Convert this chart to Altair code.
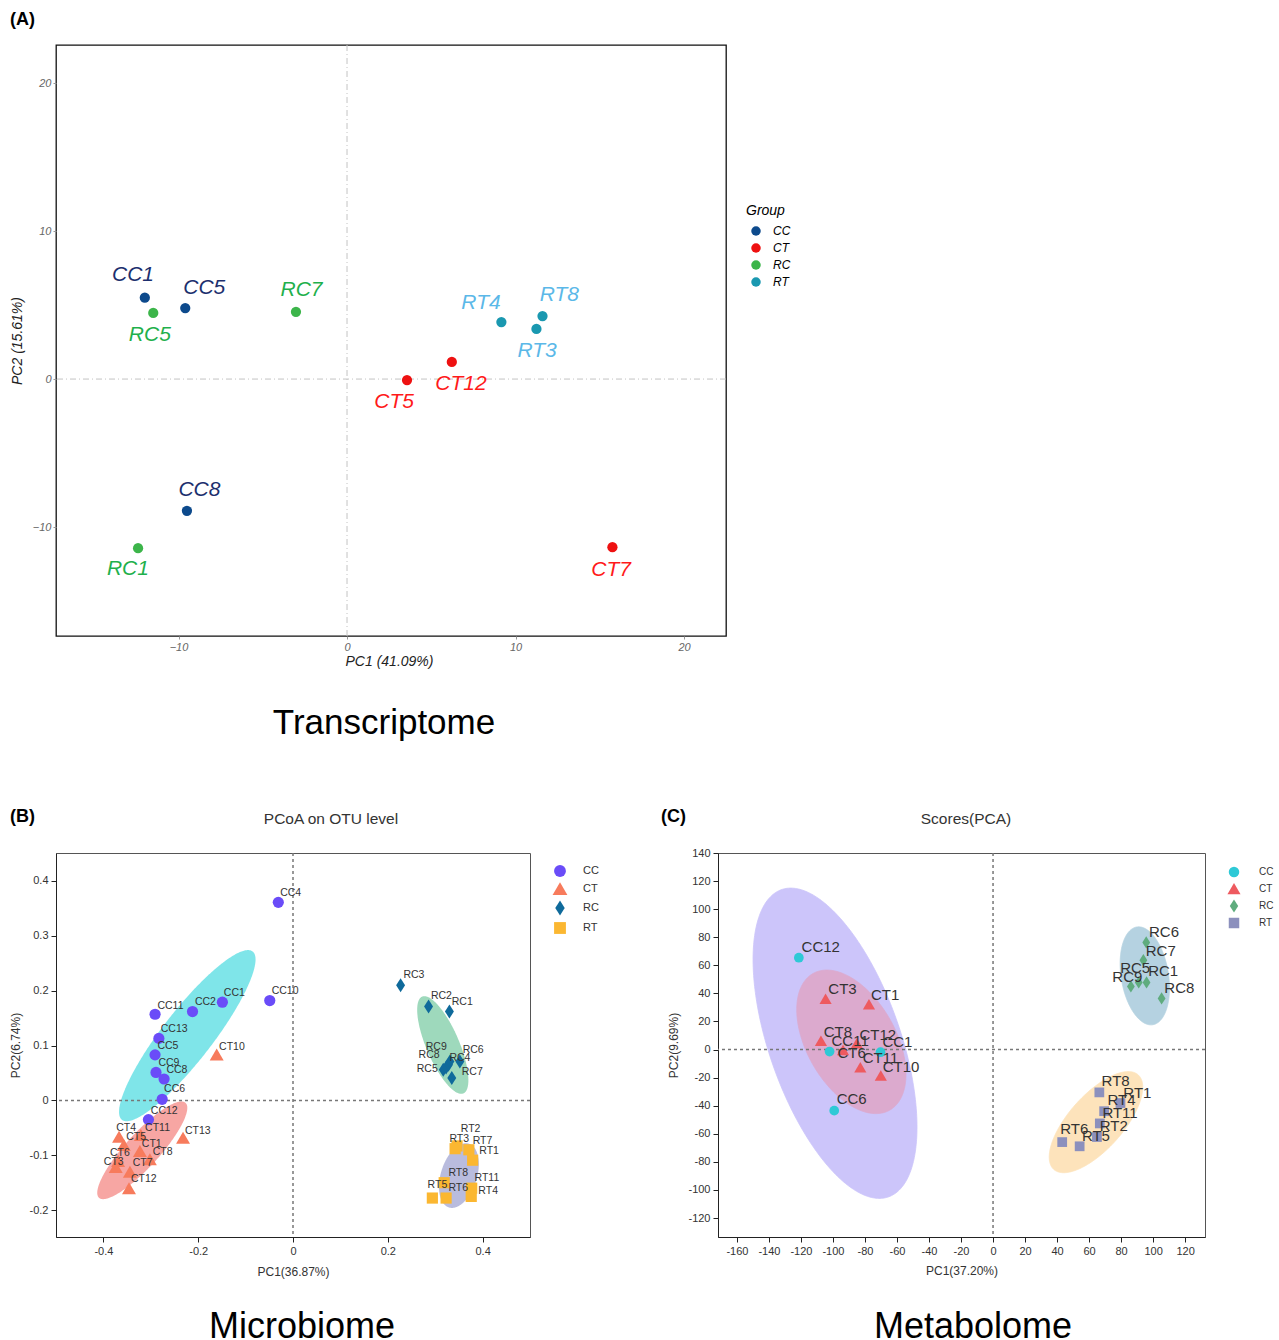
import altair as alt
import numpy as np
import pandas as pd

FONT = "Liberation Sans"
GROUPS = ["CC", "CT", "RC", "RT"]

# ---------------- Panel A : Transcriptome PCA ----------------
a_sample = ["CC1", "CC5", "CC8", "CT5", "CT7", "CT12", "RC1", "RC5", "RC7", "RT3", "RT4", "RT8"]
a_pc1 = [-12.0, -9.6, -9.5, 3.56, 15.75, 6.22, -12.4, -11.5, -3.03, 11.24, 9.16, 11.6]
a_pc2 = [5.5, 4.8, -8.9, -0.07, -11.36, 1.16, -11.43, 4.47, 4.54, 3.39, 3.85, 4.26]
a_lab_x = [-12.7, -8.47, -8.76, 2.8, 15.67, 6.76, -13.0, -11.7, -2.7, 11.28, 7.95, 12.6]
a_lab_y = [7.0, 6.13, -7.52, -1.53, -12.93, -0.31, -12.8, 2.96, 6.0, 1.87, 5.16, 5.65]
a_point_colors = ["#0d4a8c", "#ee1111", "#3cb54a", "#1a98b0"]
a_label_colors = ["#1c2f6e", "#ff1a1a", "#1fb04c", "#5bb8e8"]

# ---------------- Panel B : Microbiome PCoA ----------------
b_sample = ["CC4", "CC10", "CC1", "CC2", "CC11", "CC13", "CC5", "CC9", "CC8", "CC6", "CC12",
            "CT4", "CT11", "CT5", "CT1", "CT6", "CT8", "CT3", "CT7", "CT12", "CT13", "CT10",
            "RC3", "RC2", "RC1", "RC9", "RC8", "RC4", "RC6", "RC5", "RC7",
            "RT2", "RT3", "RT7", "RT1", "RT8", "RT11", "RT4", "RT5", "RT6"]
b_pc1 = [-0.031, -0.049, -0.149, -0.212, -0.291, -0.283, -0.291, -0.289, -0.272, -0.276, -0.305,
         -0.367, -0.321, -0.357, -0.323, -0.369, -0.302, -0.374, -0.344, -0.346, -0.232, -0.161,
         0.227, 0.286, 0.330, 0.328, 0.323, 0.331, 0.352, 0.317, 0.335,
         0.346, 0.342, 0.371, 0.379, 0.319, 0.377, 0.376, 0.294, 0.323]
b_pc2 = [0.361, 0.182, 0.179, 0.162, 0.157, 0.113, 0.083, 0.051, 0.039, 0.002, -0.035,
         -0.067, -0.064, -0.082, -0.093, -0.111, -0.108, -0.122, -0.131, -0.161, -0.069, 0.083,
         0.210, 0.171, 0.162, 0.065, 0.060, 0.071, 0.071, 0.056, 0.041,
         -0.083, -0.088, -0.090, -0.109, -0.150, -0.160, -0.175, -0.178, -0.178]
b_lab_x = [-0.027, -0.045, -0.146, -0.207, -0.286, -0.279, -0.286, -0.284, -0.267, -0.272, -0.300,
           -0.373, -0.312, -0.352, -0.319, -0.386, -0.296, -0.399, -0.338, -0.342, -0.228, -0.156,
           0.233, 0.291, 0.335, 0.280, 0.265, 0.330, 0.358, 0.261, 0.356,
           0.354, 0.330, 0.379, 0.393, 0.328, 0.383, 0.391, 0.284, 0.328]
b_lab_y = [0.378, 0.200, 0.196, 0.180, 0.173, 0.130, 0.100, 0.068, 0.056, 0.020, -0.019,
           -0.050, -0.050, -0.067, -0.080, -0.095, -0.094, -0.113, -0.115, -0.144, -0.055, 0.097,
           0.228, 0.190, 0.179, 0.098, 0.082, 0.077, 0.091, 0.058, 0.051,
           -0.053, -0.071, -0.074, -0.093, -0.133, -0.142, -0.166, -0.155, -0.160]
# ellipses: centre, half-width, half-height, correlation
b_ell_cx = [-0.223, -0.318, 0.316, 0.350]
b_ell_cy = [0.118, -0.091, 0.101, -0.137]
b_ell_rx = [0.144, 0.095, 0.054, 0.042]
b_ell_ry = [0.156, 0.089, 0.089, 0.059]
b_ell_rho = [0.89, 0.87, -0.72, 0.35]
b_point_colors = ["#6a4cf8", "#f77b5c", "#0f6a9b", "#fbb731"]
b_ell_colors = ["#2ad4da", "#f26a66", "#5ebf8f", "#8a90c8"]

# ---------------- Panel C : Metabolome PCA ----------------
c_sample = ["CC12", "CC11", "CC1", "CC6",
            "CT3", "CT1", "CT8", "CT6", "CT12", "CT11", "CT10",
            "RC6", "RC7", "RC5", "RC9", "RC1", "RC8",
            "RT8", "RT1", "RT4", "RT11", "RT2", "RT5", "RT6"]
c_pc1 = [-121.3, -102.1, -70.3, -99.2,
         -104.6, -77.5, -107.5, -93.7, -85.1, -82.9, -70.1,
         95.7, 93.9, 91.0, 86.1, 95.9, 105.3,
         66.4, 79.6, 69.4, 66.7, 64.9, 54.1, 43.2]
c_pc2 = [65.4, -1.4, -1.9, -43.5,
         36.0, 32.0, 6.0, -0.5, 4.3, -12.8, -18.8,
         76.3, 63.7, 47.8, 44.9, 47.8, 36.4,
         -30.5, -38.1, -43.9, -52.6, -62.3, -68.9, -65.9]
c_lab_x = [-119.6, -100.9, -69.1, -97.7,
           -102.9, -76.3, -105.8, -97.2, -83.4, -81.4, -68.9,
           97.4, 95.4, 79.4, 74.5, 96.9, 107.0,
           67.8, 81.4, 71.5, 68.3, 66.6, 55.5, 42.0]
c_lab_y = [73.2, 6.2, 5.5, -35.4,
           43.0, 38.7, 12.8, -2.1, 10.2, -6.2, -12.1,
           83.9, 70.4, 58.0, 51.8, 55.6, 44.0,
           -22.4, -31.1, -36.1, -44.9, -54.4, -61.6, -56.8]
c_ell_cx = [-98.7, -88.5, 94.8, 64.3]
c_ell_cy = [4.5, 5.5, 52.5, -51.7]
c_ell_rx = [51.2, 34.1, 15.4, 29.2]
c_ell_ry = [110.5, 51.1, 34.9, 36.0]
c_ell_rho = [-0.54, -0.45, -0.25, 0.69]
c_point_colors = ["#2ec9d6", "#ee5a5f", "#5fac7e", "#8c90bd"]
c_ell_colors = ["#8f7ff5", "#f08a9a", "#5d9dbd", "#fbc36a"]

TRIANGLE = "M0,-1.15L1.25,1L-1.25,1Z"
DIAMOND = "M0,-1.25L0.8,0L0,1.25L-0.8,0Z"
SHAPES = ["circle", TRIANGLE, DIAMOND, "square"]


def group_of(names):
    return [n[:2] for n in names]


def ellipse_df(cx, cy, rx, ry, rho, n=160):
    th = np.linspace(np.pi, 0, n)
    t, s = np.cos(th), np.sin(th)
    frames = []
    for g, x0, y0, a, b, r in zip(GROUPS, cx, cy, rx, ry, rho):
        mid = y0 + r * b * t
        half = b * np.sqrt(1 - r * r) * s
        frames.append(pd.DataFrame({"group": g, "ex": x0 + a * t, "ey": mid + half, "ey2": mid - half}))
    return pd.concat(frames, ignore_index=True)


def ann(txt, x, y, size, weight="normal", align="left", baseline="alphabetic", color="#000000"):
    return alt.Chart(pd.DataFrame({"t": [txt]})).mark_text(
        align=align, baseline=baseline, fontSize=size, fontWeight=weight, color=color, font=FONT
    ).encode(x=alt.value(x), y=alt.value(y), text="t:N")


# ================= Panel A =================
A_W, A_H = 670, 591
a_df = pd.DataFrame({"sample": a_sample, "group": group_of(a_sample), "x": a_pc1, "y": a_pc2,
                     "lx": a_lab_x, "ly": a_lab_y})
a_xs = alt.Scale(domain=[-17.27, 22.49], nice=False, zero=False)
a_ys = alt.Scale(domain=[-17.36, 22.57], nice=False, zero=False)
a_xa = alt.Axis(values=[-10, 0, 10, 20], title="PC1 (41.09%)", grid=False, domain=False,
                labelFontStyle="italic", labelColor="#666666", labelFontSize=11, tickColor="#999999",
                tickSize=3, labelPadding=2, titleFontStyle="italic", titleFontSize=14,
                titleFontWeight="normal", titleColor="#222222", titleX=333, titleY=25,
                titleBaseline="middle")
a_ya = alt.Axis(values=[-10, 0, 10, 20], title="PC2 (15.61%)", grid=False, domain=False,
                labelFontStyle="italic", labelColor="#666666", labelFontSize=11, tickColor="#999999",
                tickSize=3, labelPadding=2, titleFontStyle="italic", titleFontSize=14,
                titleFontWeight="normal", titleColor="#222222", titleX=-39, titleY=A_H / 2,
                titleBaseline="middle", titleAngle=-90)


def ax_(f):
    return alt.X(f + ":Q", scale=a_xs, axis=a_xa)


def ay_(f):
    return alt.Y(f + ":Q", scale=a_ys, axis=a_ya)


zero_df = pd.DataFrame({"v": [0]})
a_rx = alt.Chart(zero_df).mark_rule(color="#c4c4c4", strokeDash=[6, 3, 1, 3], strokeWidth=1).encode(x=ax_("v"))
a_ry = alt.Chart(zero_df).mark_rule(color="#c4c4c4", strokeDash=[6, 3, 1, 3], strokeWidth=1).encode(y=ay_("v"))
a_pts = alt.Chart(a_df).mark_point(filled=True, opacity=1, size=105).encode(
    x=ax_("x"), y=ay_("y"),
    color=alt.Color("group:N", scale=alt.Scale(domain=GROUPS, range=a_point_colors),
                    legend=alt.Legend(title="Group", orient="none", legendX=690, legendY=159,
                                      titleFontStyle="italic", labelFontStyle="italic",
                                      titleFontSize=14, titleFontWeight="normal", labelFontSize=12,
                                      symbolSize=90, symbolType="circle", rowPadding=5,
                                      labelOffset=11, titlePadding=7, padding=0, symbolOffset=4)))
a_txt = alt.Chart(a_df).mark_text(fontSize=21, fontStyle="italic", font=FONT, align="center",
                                  baseline="middle").encode(
    x=ax_("lx"), y=ay_("ly"), text="sample:N",
    color=alt.Color("group:N", scale=alt.Scale(domain=GROUPS, range=a_label_colors), legend=None))
panelA = alt.layer(
    a_rx, a_ry, a_pts, a_txt,
    ann("(A)", -46, -20, 18, weight="bold"),
    ann("Transcriptome", 328, 689, 35, align="center"),
).resolve_scale(color="independent").properties(
    width=A_W, height=A_H, view=alt.ViewBackground(stroke="#111111", strokeWidth=1.3))

# ================= Panel B =================
B_W, B_H = 474, 384
b_df = pd.DataFrame({"sample": b_sample, "group": group_of(b_sample), "x": b_pc1, "y": b_pc2,
                     "lx": b_lab_x, "ly": b_lab_y})
b_ell = ellipse_df(b_ell_cx, b_ell_cy, b_ell_rx, b_ell_ry, b_ell_rho)
b_xs = alt.Scale(domain=[-0.5, 0.5], nice=False, zero=False)
b_ys = alt.Scale(domain=[-0.249, 0.451], nice=False, zero=False)
common_axis = dict(grid=False, domainColor="#222222", tickColor="#222222", tickSize=5,
                   labelColor="#333333", labelFontSize=11, titleFontSize=12,
                   titleFontWeight="normal", titleColor="#333333", labelPadding=3,
                   titleBaseline="middle")
b_xa = alt.Axis(values=[-0.4, -0.2, 0, 0.2, 0.4], labelExpr="datum.value + ''", title="PC1(36.87%)",
                titleX=B_W / 2, titleY=34, **common_axis)
b_ya = alt.Axis(values=[-0.2, -0.1, 0, 0.1, 0.2, 0.3, 0.4], labelExpr="datum.value + ''",
                title="PC2(6.74%)", titleX=-41, titleY=B_H / 2, titleAngle=-90, **common_axis)


def bx_(f):
    return alt.X(f + ":Q", scale=b_xs, axis=b_xa)


def by_(f):
    return alt.Y(f + ":Q", scale=b_ys, axis=b_ya)


b_rx = alt.Chart(zero_df).mark_rule(color="#777777", strokeDash=[3, 3], strokeWidth=1.5).encode(x=bx_("v"))
b_ry = alt.Chart(zero_df).mark_rule(color="#777777", strokeDash=[3, 3], strokeWidth=1.5).encode(y=by_("v"))
b_area = alt.Chart(b_ell).mark_area(opacity=0.6).encode(
    x=bx_("ex"), y=by_("ey"), y2="ey2",
    color=alt.Color("group:N", scale=alt.Scale(domain=GROUPS, range=b_ell_colors), legend=None))
b_leg = alt.Legend(title=None, orient="none", legendX=497, legendY=11, labelFontSize=11,
                   labelColor="#333333", symbolSize=140, rowPadding=5, labelOffset=16, padding=0)
b_pts = alt.Chart(b_df).mark_point(filled=True, opacity=1, size=125).encode(
    x=bx_("x"), y=by_("y"),
    color=alt.Color("group:N", scale=alt.Scale(domain=GROUPS, range=b_point_colors), legend=b_leg),
    shape=alt.Shape("group:N", scale=alt.Scale(domain=GROUPS, range=SHAPES), legend=b_leg))
b_txt = alt.Chart(b_df).mark_text(fontSize=10.5, font=FONT, align="left", baseline="middle",
                                  color="#333333").encode(x=bx_("lx"), y=by_("ly"), text="sample:N")
panelB = alt.layer(
    b_area, b_rx, b_ry, b_pts, b_txt,
    ann("(B)", -46, -31, 18, weight="bold"),
    ann("PCoA on OTU level", 275, -34, 15.5, align="center", baseline="middle", color="#333333"),
    ann("Microbiome", 246, 485, 36, align="center"),
).resolve_scale(color="independent", shape="independent").properties(
    width=B_W, height=B_H, view=alt.ViewBackground(stroke="#555555", strokeWidth=1))

# ================= Panel C =================
C_W, C_H = 487, 384
c_df = pd.DataFrame({"sample": c_sample, "group": group_of(c_sample), "x": c_pc1, "y": c_pc2,
                     "lx": c_lab_x, "ly": c_lab_y})
c_ell = ellipse_df(c_ell_cx, c_ell_cy, c_ell_rx, c_ell_ry, c_ell_rho)
c_xs = alt.Scale(domain=[-171.8, 132.4], nice=False, zero=False)
c_ys = alt.Scale(domain=[-133.5, 140], nice=False, zero=False)
c_xa = alt.Axis(values=list(range(-160, 121, 20)), labelExpr="datum.value + ''", title="PC1(37.20%)",
                titleX=C_W / 2, titleY=33, **common_axis)
c_ya = alt.Axis(values=list(range(-120, 141, 20)), labelExpr="datum.value + ''", title="PC2(9.69%)",
                titleX=-45, titleY=C_H / 2, titleAngle=-90, **common_axis)


def cx_(f):
    return alt.X(f + ":Q", scale=c_xs, axis=c_xa)


def cy_(f):
    return alt.Y(f + ":Q", scale=c_ys, axis=c_ya)


c_rx = alt.Chart(zero_df).mark_rule(color="#777777", strokeDash=[3, 3], strokeWidth=1.5).encode(x=cx_("v"))
c_ry = alt.Chart(zero_df).mark_rule(color="#777777", strokeDash=[3, 3], strokeWidth=1.5).encode(y=cy_("v"))
c_area = alt.Chart(c_ell).mark_area(opacity=0.45, strokeOpacity=0.8, strokeWidth=1).encode(
    x=cx_("ex"), y=cy_("ey"), y2="ey2",
    color=alt.Color("group:N", scale=alt.Scale(domain=GROUPS, range=c_ell_colors), legend=None),
    stroke=alt.Stroke("group:N", scale=alt.Scale(domain=GROUPS, range=c_ell_colors), legend=None))
c_leg = alt.Legend(title=None, orient="none", legendX=510, legendY=13, labelFontSize=10,
                   labelColor="#333333", symbolSize=110, rowPadding=4, labelOffset=19, padding=0)
c_pts = alt.Chart(c_df).mark_point(filled=True, opacity=1, size=95).encode(
    x=cx_("x"), y=cy_("y"),
    color=alt.Color("group:N", scale=alt.Scale(domain=GROUPS, range=c_point_colors), legend=c_leg),
    shape=alt.Shape("group:N", scale=alt.Scale(domain=GROUPS, range=SHAPES), legend=c_leg))
c_txt = alt.Chart(c_df).mark_text(fontSize=15, font=FONT, align="left", baseline="middle",
                                  color="#333333").encode(x=cx_("lx"), y=cy_("ly"), text="sample:N")
panelC = alt.layer(
    c_area, c_rx, c_ry, c_pts, c_txt,
    ann("(C)", -57, -31, 18, weight="bold"),
    ann("Scores(PCA)", 248, -34, 15.5, align="center", baseline="middle", color="#333333"),
    ann("Metabolome", 255, 485, 36, align="center"),
).resolve_scale(color="independent", shape="independent", stroke="independent").properties(
    width=C_W, height=C_H, view=alt.ViewBackground(stroke="#555555", strokeWidth=1))

chart = alt.vconcat(
    panelA,
    alt.hconcat(panelB, panelC, spacing=188, bounds="flush"),
    spacing=217, bounds="flush",
).properties(
    padding={"left": 8, "top": 10, "right": 0, "bottom": 0}
).configure(font=FONT).configure_axis(grid=False)

chart.save("out.html", embed_options={"renderer": "svg", "actions": False})
